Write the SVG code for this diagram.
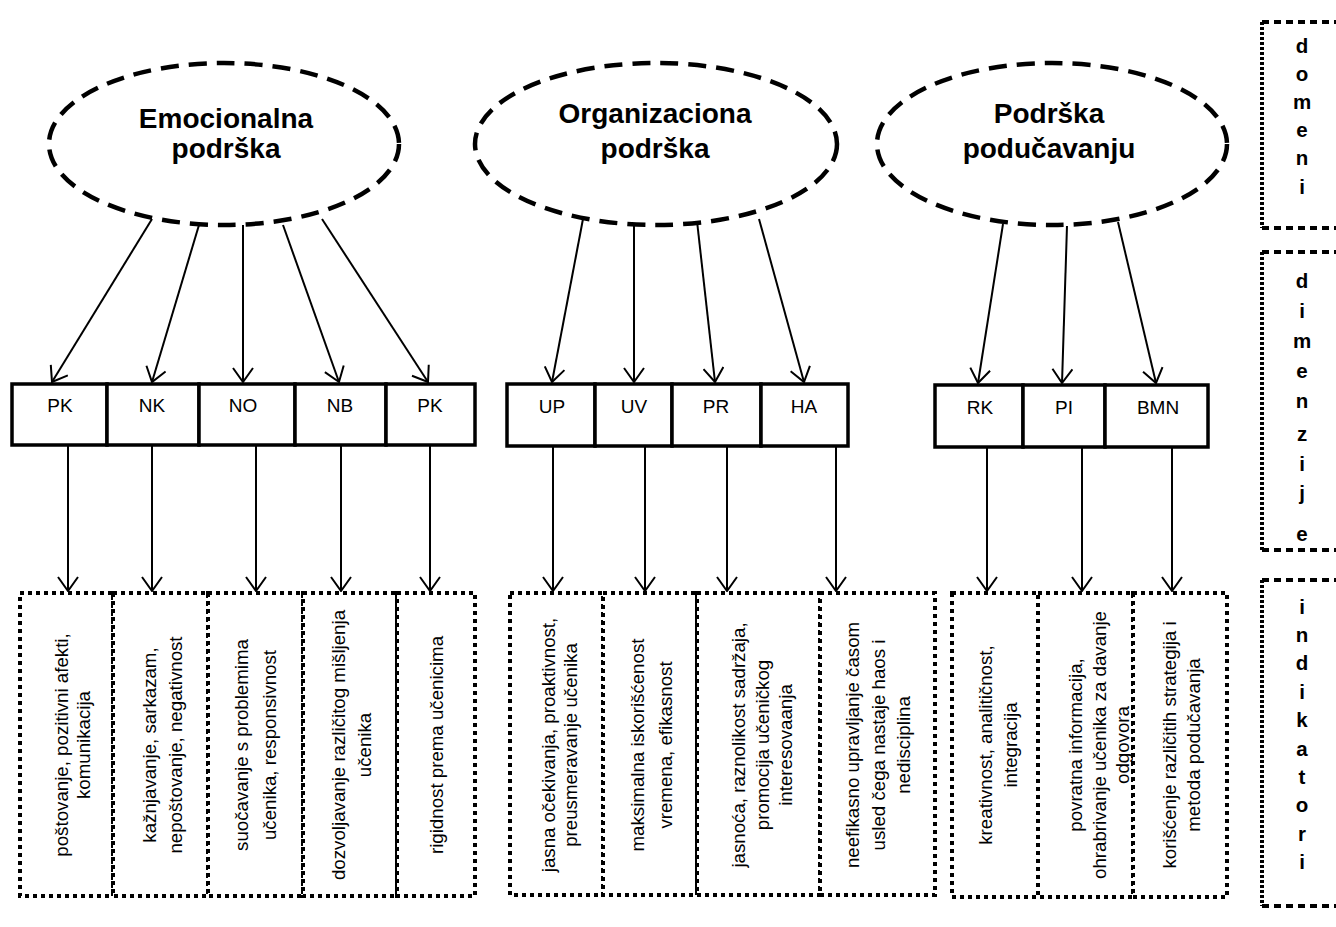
<svg xmlns="http://www.w3.org/2000/svg" width="1336" height="927" viewBox="0 0 1336 927">
<defs>
<marker id="ah" markerUnits="userSpaceOnUse" viewBox="0 0 16 22" refX="15" refY="11" markerWidth="16" markerHeight="22" orient="auto">
<path d="M1,1 L15,11 L1,21" fill="none" stroke="#000" stroke-width="2"/>
</marker>
</defs>
<style>
.ell{fill:none;stroke:#000;stroke-width:4.5;stroke-dasharray:18 10}
.et{font-family:"Liberation Sans",Arial,sans-serif;font-weight:bold;font-size:28px;text-anchor:middle;fill:#000}
.box{fill:#fff;stroke:#000;stroke-width:3.5}
.bt{font-family:"Liberation Sans",Arial,sans-serif;font-size:19px;text-anchor:middle;fill:#000}
.dot{fill:#fff;stroke:#000;stroke-width:4;stroke-dasharray:4 4}
.it{font-family:"Liberation Sans",Arial,sans-serif;font-size:18.7px;text-anchor:middle;fill:#000}
.con line{stroke:#000;stroke-width:2;marker-end:url(#ah)}
.side{fill:none;stroke:#000;stroke-width:4}
.sl{font-family:"Liberation Sans",Arial,sans-serif;font-weight:bold;font-size:20.5px;text-anchor:middle;fill:#000}
</style>
<rect width="1336" height="927" fill="#fff"/>

<g id="domain-emocionalna">
<ellipse class="ell" cx="224" cy="144" rx="175" ry="81"/>
<text class="et" x="226" y="128">Emocionalna</text>
<text class="et" x="226" y="158">podrška</text>
</g>
<g id="domain-organizaciona">
<ellipse class="ell" cx="656" cy="144" rx="181" ry="81"/>
<text class="et" x="655" y="123">Organizaciona</text>
<text class="et" x="655" y="158">podrška</text>
</g>
<g id="domain-podrska-podu">
<ellipse class="ell" cx="1052" cy="144" rx="175" ry="81"/>
<text class="et" x="1049" y="123">Podrška</text>
<text class="et" x="1049" y="158">podučavanju</text>
</g>

<g id="dim-pk1"><rect class="box" x="12" y="384" width="95" height="61"/><text class="bt" x="60" y="412">PK</text></g>
<g id="dim-nk"><rect class="box" x="107" y="384" width="92" height="61"/><text class="bt" x="152" y="412">NK</text></g>
<g id="dim-no"><rect class="box" x="199" y="384" width="96" height="61"/><text class="bt" x="243" y="412">NO</text></g>
<g id="dim-nb"><rect class="box" x="295" y="384" width="91" height="61"/><text class="bt" x="340" y="412">NB</text></g>
<g id="dim-pk2"><rect class="box" x="386" y="384" width="89" height="61"/><text class="bt" x="430" y="412">PK</text></g>

<g id="dim-up"><rect class="box" x="507" y="384" width="88" height="62"/><text class="bt" x="552" y="413">UP</text></g>
<g id="dim-uv"><rect class="box" x="595" y="384" width="77" height="62"/><text class="bt" x="634" y="413">UV</text></g>
<g id="dim-pr"><rect class="box" x="672" y="384" width="89" height="62"/><text class="bt" x="716" y="413">PR</text></g>
<g id="dim-ha"><rect class="box" x="761" y="384" width="87" height="62"/><text class="bt" x="804" y="413">HA</text></g>

<g id="dim-rk"><rect class="box" x="935" y="385" width="88" height="62"/><text class="bt" x="980" y="414">RK</text></g>
<g id="dim-pi"><rect class="box" x="1023" y="385" width="82" height="62"/><text class="bt" x="1064" y="414">PI</text></g>
<g id="dim-bmn"><rect class="box" x="1105" y="385" width="103" height="62"/><text class="bt" x="1158" y="414">BMN</text></g>

<g id="ind-1"><rect class="dot" x="20" y="593" width="93" height="303"/>
<text class="it" transform="translate(68,745) rotate(-90)"><tspan x="0" dy="0">poštovanje,  pozitivni afekti,</tspan><tspan x="0" dy="22">komunikacija</tspan></text></g>
<g id="ind-2"><rect class="dot" x="113" y="593" width="95" height="303"/>
<text class="it" transform="translate(156,745) rotate(-90)"><tspan x="0" dy="0">kažnjavanje, sarkazam,</tspan><tspan x="0" dy="26">nepoštovanje, negativnost</tspan></text></g>
<g id="ind-3"><rect class="dot" x="208" y="593" width="95" height="303"/>
<text class="it" transform="translate(248,745) rotate(-90)"><tspan x="0" dy="0">suočavanje s problemima</tspan><tspan x="0" dy="28">učenika, responsivnost</tspan></text></g>
<g id="ind-4"><rect class="dot" x="303" y="593" width="94" height="303"/>
<text class="it" transform="translate(345,745) rotate(-90)"><tspan x="0" dy="0">dozvoljavanje različitog mišljenja</tspan><tspan x="0" dy="26">učenika</tspan></text></g>
<g id="ind-5"><rect class="dot" x="397" y="593" width="78" height="303"/>
<text class="it" transform="translate(443,745) rotate(-90)">rigidnost prema učenicima</text></g>

<g id="ind-6"><rect class="dot" x="510" y="593" width="93" height="302"/>
<text class="it" transform="translate(555,745) rotate(-90)"><tspan x="0" dy="0">jasna očekivanja, proaktivnost,</tspan><tspan x="0" dy="22">preusmeravanje učenika</tspan></text></g>
<g id="ind-7"><rect class="dot" x="603" y="593" width="94" height="302"/>
<text class="it" transform="translate(644,745) rotate(-90)"><tspan x="0" dy="0">maksimalna iskorišćenost</tspan><tspan x="0" dy="28">vremena, efikasnost</tspan></text></g>
<g id="ind-8"><rect class="dot" x="697" y="593" width="123" height="302"/>
<text class="it" transform="translate(745,745) rotate(-90)"><tspan x="0" dy="0">jasnoća, raznolikost sadržaja,</tspan><tspan x="0" dy="23.5">promocija učeničkog</tspan><tspan x="0" dy="23.5">interesovaanja</tspan></text></g>
<g id="ind-9"><rect class="dot" x="820" y="593" width="115" height="302"/>
<text class="it" transform="translate(859,745) rotate(-90)"><tspan x="0" dy="0">neefikasno upravljanje časom</tspan><tspan x="0" dy="25.5">usled čega nastaje haos i</tspan><tspan x="0" dy="25.5">nedisciplina</tspan></text></g>

<g id="ind-10"><rect class="dot" x="952" y="593" width="86" height="304"/>
<text class="it" transform="translate(992,745) rotate(-90)"><tspan x="0" dy="0">kreativnost,  analitičnost,</tspan><tspan x="0" dy="25">integracija</tspan></text></g>
<g id="ind-11"><rect class="dot" x="1038" y="593" width="95" height="304"/>
<text class="it" transform="translate(1082,745) rotate(-90)"><tspan x="0" dy="0">povratna informacija,</tspan><tspan x="0" dy="24">ohrabrivanje učenika za davanje</tspan><tspan x="0" dy="23">odgovora</tspan></text></g>
<g id="ind-12"><rect class="dot" x="1133" y="593" width="94" height="304"/>
<text class="it" transform="translate(1176,745) rotate(-90)"><tspan x="0" dy="0">korišćenje različitih strategija i</tspan><tspan x="0" dy="24">metoda podučavanja</tspan></text></g>

<g id="label-domeni">
<path class="side" d="M1262,22 V228" stroke-dasharray="3 2"/>
<path class="side" d="M1262,22 H1336 M1262,228 H1336" stroke-dasharray="7 5"/>
<text class="sl" x="1302" y="53">d</text><text class="sl" x="1302" y="81">o</text><text class="sl" x="1302" y="109">m</text><text class="sl" x="1302" y="137">e</text><text class="sl" x="1302" y="165">n</text><text class="sl" x="1302" y="194">i</text>
</g>
<g id="label-dimenzije">
<path class="side" d="M1262,252 V550" stroke-dasharray="3 2"/>
<path class="side" d="M1262,252 H1336 M1262,550 H1336" stroke-dasharray="7 5"/>
<text class="sl" x="1302" y="288">d</text><text class="sl" x="1302" y="318">i</text><text class="sl" x="1302" y="348">m</text><text class="sl" x="1302" y="378">e</text><text class="sl" x="1302" y="408">n</text><text class="sl" x="1302" y="441">z</text><text class="sl" x="1302" y="471">i</text><text class="sl" x="1302" y="500">j</text><text class="sl" x="1302" y="541">e</text>
</g>
<g id="label-indikatori">
<path class="side" d="M1262,580 V906" stroke-dasharray="3 2"/>
<path class="side" d="M1262,580 H1336 M1262,906 H1336" stroke-dasharray="7 5"/>
<text class="sl" x="1302" y="614">i</text><text class="sl" x="1302" y="642">n</text><text class="sl" x="1302" y="670">d</text><text class="sl" x="1302" y="699">i</text><text class="sl" x="1302" y="727">k</text><text class="sl" x="1302" y="756">a</text><text class="sl" x="1302" y="784">t</text><text class="sl" x="1302" y="812">o</text><text class="sl" x="1302" y="841">r</text><text class="sl" x="1302" y="869">i</text>
</g>

<g id="connectors" class="con">
<line x1="152" y1="219" x2="52" y2="382"/>
<line x1="199" y1="225" x2="152" y2="382"/>
<line x1="243" y1="225" x2="243" y2="382"/>
<line x1="283" y1="225" x2="339" y2="382"/>
<line x1="322" y1="219" x2="428" y2="382"/>
<line x1="583" y1="219" x2="552" y2="382"/>
<line x1="634" y1="225" x2="634" y2="382"/>
<line x1="697" y1="221" x2="715" y2="382"/>
<line x1="759" y1="219" x2="804" y2="382"/>
<line x1="1003" y1="224" x2="978" y2="383"/>
<line x1="1067" y1="226" x2="1062" y2="383"/>
<line x1="1118" y1="222" x2="1156" y2="383"/>
<line x1="68" y1="446" x2="68" y2="591"/>
<line x1="152" y1="446" x2="152" y2="591"/>
<line x1="256" y1="446" x2="256" y2="591"/>
<line x1="341" y1="446" x2="341" y2="591"/>
<line x1="430" y1="446" x2="430" y2="591"/>
<line x1="553" y1="447" x2="553" y2="591"/>
<line x1="645" y1="447" x2="645" y2="591"/>
<line x1="727" y1="447" x2="727" y2="591"/>
<line x1="836" y1="447" x2="836" y2="591"/>
<line x1="987" y1="448" x2="987" y2="591"/>
<line x1="1082" y1="448" x2="1082" y2="591"/>
<line x1="1172" y1="448" x2="1172" y2="591"/>
</g>
</svg>
